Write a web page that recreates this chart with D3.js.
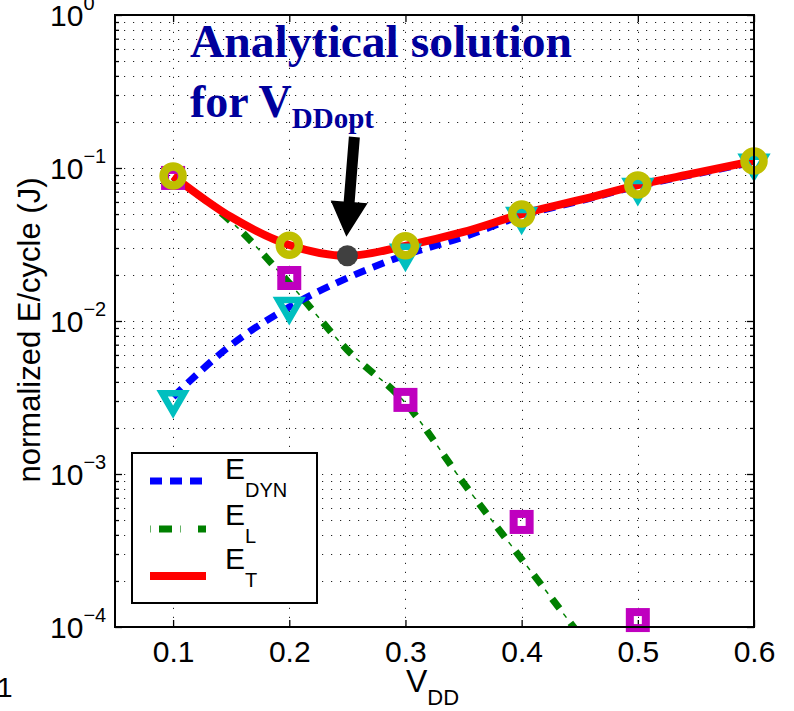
<!DOCTYPE html>
<html>
<head>
<meta charset="utf-8">
<script src="https://cdn.jsdelivr.net/npm/d3@7"></script>
<style>
  body { margin: 0; background: #fff; }
  text { font-family: "Liberation Sans", Arial, sans-serif; }
</style>
</head>
<body>
<svg id="chart"></svg>
<script>
// model curves, read every 0.05 V
const vdd   = [0.1, 0.15, 0.2, 0.25, 0.3, 0.35, 0.4, 0.45, 0.5, 0.55, 0.6];
const eDyn  = [0.00319, 0.00697, 0.01235, 0.0191, 0.0270, 0.0354, 0.0487, 0.0608, 0.0762, 0.0914, 0.1094];
const eLeak = [0.0872, 0.0446, 0.0177, 0.00646, 0.00291, 0.000873, 0.000278, 0.0000887, 0.0000283, 0.0000090, 0.00000287];
const eTot  = [0.0886, 0.0478, 0.0314, 0.0267, 0.0310, 0.0382, 0.0500, 0.0618, 0.0774, 0.0927, 0.1112];

// simulated points
const vddSim   = [0.1, 0.2, 0.3, 0.4, 0.5, 0.6];
const dynSim   = [0.0029, 0.0118, 0.0263, 0.0458, 0.0707, 0.102];
const leakSim  = [0.0861, 0.0191, 0.00305, 0.000486, 0.000111];
const totSim   = [0.0887, 0.0313, 0.0310, 0.0500, 0.0774, 0.111];

const vOpt = 0.25, eOpt = 0.0267;

const xTicks = [0.1, 0.2, 0.3, 0.4, 0.5, 0.6];
const yExps  = [0, -1, -2, -3, -4];

const W = 794, H = 711;
const pL = 115, pR = 754, pT = 15, pB = 627;

const svg = d3.select("#chart").attr("width", W).attr("height", H);

const x = d3.scaleLinear().domain([0.05, 0.6]).range([pL, pR]);
const y = d3.scaleLog().domain([1e-4, 1]).range([pB, pT]);

svg.append("defs").append("clipPath").attr("id", "plot")
   .append("rect").attr("x", pL).attr("y", pT)
   .attr("width", pR - pL).attr("height", pB - pT);

// grid
const minors = [];
yExps.slice(1).forEach(e => { for (let k = 1; k <= 9; k++) minors.push(k * Math.pow(10, e)); });
minors.push(1);

const grid = svg.append("g").attr("stroke", "#222").attr("stroke-width", 1)
                .attr("stroke-dasharray", "1.2,7.8");
grid.selectAll(".gy").data(minors).enter().append("line")
    .attr("x1", pL).attr("x2", pR)
    .attr("y1", d => Math.round(y(d)) + 0.5).attr("y2", d => Math.round(y(d)) + 0.5);
grid.selectAll(".gx").data(xTicks).enter().append("line")
    .attr("x1", d => Math.round(x(d)) + 0.5).attr("x2", d => Math.round(x(d)) + 0.5)
    .attr("y1", pB).attr("y2", pT);

// ticks
const axB = svg.append("g").attr("transform", `translate(0,${pB})`)
  .call(d3.axisBottom(x).tickValues(xTicks).tickSizeInner(-7).tickSizeOuter(0)
          .tickPadding(14).tickFormat(d3.format(".1f")));
svg.append("g").attr("transform", `translate(0,${pT})`)
  .call(d3.axisTop(x).tickValues(xTicks).tickSizeInner(-7).tickSizeOuter(0).tickFormat(""));
const majors = yExps.map(e => Math.pow(10, e));
const minorOnly = minors.filter(d => !majors.some(m => Math.abs(m - d) < 1e-12));
svg.append("g").attr("transform", `translate(${pL},0)`)
  .call(d3.axisLeft(y).tickValues(majors).tickSizeInner(-7).tickSizeOuter(0).tickFormat(""));
svg.append("g").attr("transform", `translate(${pL},0)`)
  .call(d3.axisLeft(y).tickValues(minorOnly).tickSizeInner(-4).tickSizeOuter(0).tickFormat(""));
svg.append("g").attr("transform", `translate(${pR},0)`)
  .call(d3.axisRight(y).tickValues(majors).tickSizeInner(-7).tickSizeOuter(0).tickFormat(""));
svg.append("g").attr("transform", `translate(${pR},0)`)
  .call(d3.axisRight(y).tickValues(minorOnly).tickSizeInner(-4).tickSizeOuter(0).tickFormat(""));
svg.selectAll(".domain").remove();
svg.selectAll(".tick line").attr("stroke", "#000").attr("stroke-width", 1.3);
axB.selectAll("text").attr("font-size", 30).attr("fill", "#000")
   .attr("font-family", "Liberation Sans, Arial, sans-serif");

// y tick labels with exponents
const yl = svg.append("g");
yExps.forEach(e => {
  const t = yl.append("text").attr("x", 50).attr("y", y(Math.pow(10, e)) + 11)
              .attr("font-size", 30).attr("fill", "#000");
  t.append("tspan").text("10");
  t.append("tspan").attr("font-size", 20).attr("dy", -16)
   .text(e === 0 ? "0" : "\u2212" + (-e));
});

// axis labels
svg.append("text")
   .attr("transform", `translate(40,${(pT + pB) / 2 + 9}) rotate(-90)`)
   .attr("text-anchor", "middle").attr("font-size", 31).attr("fill", "#000")
   .text("normalized E/cycle (J)");
const xl = svg.append("text").attr("x", 406).attr("y", 692).attr("font-size", 32).attr("fill", "#000");
xl.append("tspan").text("V");
xl.append("tspan").attr("font-size", 22).attr("dy", 13).text("DD");
svg.append("text").attr("x", -3).attr("y", 697).attr("font-size", 28).attr("fill", "#000").text("1");

// lines
const line = (vals) => d3.line()
  .x((d, i) => x(vdd[i]))
  .y(d => y(d))
  .curve(d3.curveMonotoneX)(vals);

const plot = svg.append("g").attr("clip-path", "url(#plot)");

plot.append("path").attr("d", line(eLeak)).attr("fill", "none")
    .attr("stroke", "#008000").attr("stroke-width", 7).attr("stroke-dasharray", "12,18");
plot.append("path").attr("d", line(eLeak)).attr("fill", "none")
    .attr("stroke", "#008000").attr("stroke-width", 1.5).attr("stroke-dasharray", "0,18.5,5,6.5");
plot.append("path").attr("d", line(eDyn)).attr("fill", "none")
    .attr("stroke", "#0000ff").attr("stroke-width", 7).attr("stroke-dasharray", "12,8");
plot.append("path").attr("d", line(eTot)).attr("fill", "none")
    .attr("stroke", "#ff0000").attr("stroke-width", 8).attr("stroke-linejoin", "round");

// markers (not clipped, they spill over the axes as in the original)
const marks = svg.append("g");
marks.selectAll(".sq").data(leakSim).enter().append("rect")
    .attr("x", (d, i) => x(vddSim[i]) - 8).attr("y", d => y(d) - 8)
    .attr("width", 16).attr("height", 16)
    .attr("fill", "none").attr("stroke", "#bf00bf").attr("stroke-width", 8);

marks.selectAll(".tri").data(dynSim).enter().append("path")
    .attr("d", "M-11,-10L11,-10L0,9Z")
    .attr("transform", (d, i) => `translate(${x(vddSim[i])},${y(d)})`)
    .attr("fill", "none").attr("stroke", "#00bfbf").attr("stroke-width", 6.5)
    .attr("stroke-linejoin", "miter");

marks.selectAll(".circ").data(totSim).enter().append("circle")
    .attr("cx", (d, i) => x(vddSim[i])).attr("cy", d => y(d)).attr("r", 9.5)
    .attr("fill", "none").attr("stroke", "#bfbf00").attr("stroke-width", 8.5);

// optimum point and arrow
const ox = x(vOpt), oy = y(eOpt);
svg.append("circle").attr("cx", ox).attr("cy", oy).attr("r", 10.5).attr("fill", "#404040");

const tip = [ox - 1, oy - 19];
const tail = [tip[0] + 8, 137];
const len = Math.hypot(tail[0] - tip[0], tail[1] - tip[1]);
const ux = (tip[0] - tail[0]) / len, uy = (tip[1] - tail[1]) / len;
const nx = -uy, ny = ux;
const base = [tip[0] - 35 * ux, tip[1] - 35 * uy];
const pts = [
  [tail[0] + 5.5 * nx, tail[1] + 5.5 * ny],
  [base[0] + 5.5 * nx, base[1] + 5.5 * ny],
  [base[0] + 18.5 * nx, base[1] + 18.5 * ny],
  tip,
  [base[0] - 18.5 * nx, base[1] - 18.5 * ny],
  [base[0] - 5.5 * nx, base[1] - 5.5 * ny],
  [tail[0] - 5.5 * nx, tail[1] - 5.5 * ny]
];
svg.append("polygon").attr("points", pts.map(p => p.join(",")).join(" ")).attr("fill", "#000");

// annotation
const serif = "'Liberation Serif', 'Times New Roman', serif";
const ann = svg.append("g").attr("fill", "#00009c").attr("font-weight", "bold");
ann.append("text").attr("x", 190).attr("y", 57).attr("font-size", 46)
   .attr("textLength", 382).attr("lengthAdjust", "spacingAndGlyphs")
   .style("font-family", serif)
   .text("Analytical solution");
const l2 = ann.append("text").attr("x", 190).attr("y", 117).attr("font-size", 46)
   .style("font-family", serif);
l2.append("tspan").text("for V");
l2.append("tspan").attr("font-size", 29).attr("dy", 11).text("DDopt");

// box
svg.append("rect").attr("x", pL).attr("y", pT)
   .attr("width", pR - pL).attr("height", pB - pT)
   .attr("fill", "none").attr("stroke", "#000").attr("stroke-width", 2);

// legend
const lg = svg.append("g");
lg.append("rect").attr("x", 132).attr("y", 453).attr("width", 185).attr("height", 150)
  .attr("fill", "#fff").attr("stroke", "#000").attr("stroke-width", 2);
const items = [
  { sub: "DYN", color: "#0000ff", ly: 481, ty: 479 },
  { sub: "L",   color: "#008000", ly: 529, ty: 525 },
  { sub: "T",   color: "#ff0000", ly: 576, ty: 569 }
];
items.forEach((it, i) => {
  if (i === 0) {
    lg.append("line").attr("x1", 150).attr("x2", 206).attr("y1", it.ly).attr("y2", it.ly)
      .attr("stroke", it.color).attr("stroke-width", 7).attr("stroke-dasharray", "12,8");
  } else if (i === 1) {
    lg.append("line").attr("x1", 150).attr("x2", 206).attr("y1", it.ly).attr("y2", it.ly)
      .attr("stroke", it.color).attr("stroke-width", 7).attr("stroke-dasharray", "0,9,13,17");
    lg.append("line").attr("x1", 150).attr("x2", 206).attr("y1", it.ly).attr("y2", it.ly)
      .attr("stroke", it.color).attr("stroke-width", 7).attr("stroke-dasharray", "1,29")
      .attr("stroke-opacity", 0.6);
  } else {
    lg.append("line").attr("x1", 150).attr("x2", 206).attr("y1", it.ly).attr("y2", it.ly)
      .attr("stroke", it.color).attr("stroke-width", 8);
  }
  const t = lg.append("text").attr("x", 225).attr("y", it.ty).attr("font-size", 30).attr("fill", "#000");
  t.append("tspan").text("E");
  t.append("tspan").attr("font-size", 20).attr("dy", 18).text(it.sub);
});
</script>
</body>
</html>
